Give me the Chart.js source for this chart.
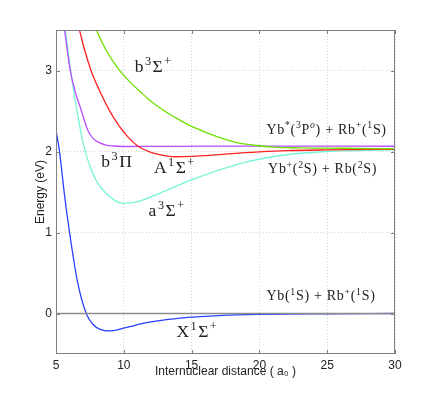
<!DOCTYPE html>
<html>
<head>
<meta charset="utf-8">
<script src="https://cdn.jsdelivr.net/npm/chart.js@4.4.0/dist/chart.umd.min.js"></script>
<style>
  html, body { margin: 0; padding: 0; background: #fff; }
  #wrap { position: relative; width: 436px; height: 399px; }
</style>
</head>
<body>
<div id="wrap"><canvas id="myChart" width="436" height="399"></canvas></div>
<script>
// potential curves, r in a0, energy in eV
const rX = [5.0, 5.26, 5.6, 6.0, 6.6, 7.23, 7.7, 8.3, 9.0, 9.8, 10.5, 11.5, 12.5, 14, 15, 17, 20, 25, 30];
const eX = [2.26, 2.0, 1.5, 1.0, 0.38, 0.0, -0.13, -0.2, -0.215, -0.19, -0.16, -0.12, -0.09, -0.06, -0.045, -0.025, -0.01, -0.003, 0.0];

const rA3 = [5.7, 6.1, 6.5, 7.0, 7.5, 8.0, 8.6, 9.3, 10.0, 11, 12, 13, 15, 17, 19, 22, 25, 30];
const eA3 = [3.5, 2.97, 2.55, 2.1, 1.82, 1.63, 1.5, 1.4, 1.36, 1.38, 1.44, 1.51, 1.65, 1.77, 1.87, 1.96, 2.0, 2.02];

const rA1 = [6.73, 7.2, 7.65, 8.3, 9.0, 9.6, 10.3, 11.0, 11.9, 12.8, 13.8, 15, 16.5, 18, 20, 22, 25, 30];
const eA1 = [3.5, 3.2, 2.97, 2.72, 2.49, 2.33, 2.18, 2.07, 1.995, 1.955, 1.935, 1.94, 1.955, 1.975, 1.995, 2.01, 2.02, 2.03];

const rPi = [5.63, 6.05, 6.45, 6.86, 7.35, 7.8, 8.2, 8.7, 9.2, 10, 12, 16, 20, 30];
const ePi = [3.5, 3.0, 2.72, 2.51, 2.26, 2.15, 2.11, 2.08, 2.068, 2.062, 2.063, 2.066, 2.067, 2.065];

const rB3 = [7.97, 8.7, 9.6, 10.5, 11.2, 12, 13, 14, 15, 16, 17.1, 18.3, 19.5, 21, 23, 26, 30];
const eB3 = [3.5, 3.25, 3.02, 2.85, 2.74, 2.62, 2.5, 2.4, 2.31, 2.24, 2.17, 2.11, 2.08, 2.055, 2.045, 2.04, 2.035];

const rZero = [5, 30];
const eZero = [0, 0];

const xTicks = [5, 10, 15, 20, 25, 30];
const yTicks = [0, 1, 2, 3];

function pts(xs, ys) {
  return xs.map((x, i) => ({x: x, y: ys[i]}));
}

// text labels: segments [text, mode] ; '' normal, '^' superscript, '^i' italic superscript
const labels = [
  {x: 10.8, y: 2.985, size: 17.5, gap: 1.5, seg: [['b',''], ['3','^'], ['Σ',''], ['+','^']]},
  {x: 8.34, y: 1.81, size: 17.5, gap: 1.5, seg: [['b',''], ['3','^'], ['Π','']]},
  {x: 12.22, y: 1.73, size: 17.5, gap: 1.5, seg: [['A',''], ['1','^'], ['Σ',''], ['+','^']]},
  {x: 11.83, y: 1.20, size: 17.5, gap: 1.5, seg: [['a',''], ['3','^'], ['Σ',''], ['+','^']]},
  {x: 13.88, y: -0.29, size: 17.5, gap: 1.5, seg: [['X',''], ['1','^'], ['Σ',''], ['+','^']]},
  {x: 20.52, y: 2.22, size: 14, gap: 0.7, seg: [['Yb',''], ['*','^'], ['(',''], ['3','^'], ['P',''], ['o','^i'], [') + Rb',''], ['+','^'], ['(',''], ['1','^'], ['S)','']]},
  {x: 20.64, y: 1.73, size: 14, gap: 0.7, seg: [['Yb',''], ['+','^'], ['(',''], ['2','^'], ['S) + Rb(',''], ['2','^'], ['S)','']]},
  {x: 20.52, y: 0.163, size: 14, gap: 0.7, seg: [['Yb(',''], ['1','^'], ['S) + Rb',''], ['+','^'], ['(',''], ['1','^'], ['S)','']]}
];

const framePlugin = {
  id: 'frame',
  afterDraw(chart) {
    const ctx = chart.ctx;
    const a = chart.chartArea;
    const xs = chart.scales.x, ys = chart.scales.y;
    ctx.save();
    ctx.strokeStyle = '#808080';
    ctx.lineWidth = 1;
    ctx.strokeRect(Math.round(a.left) + 0.5, Math.round(a.top) + 0.5,
      Math.round(a.right - a.left) - 1, Math.round(a.bottom - a.top) - 1);
    // inward ticks
    ctx.beginPath();
    xTicks.forEach(v => {
      const px = Math.round(xs.getPixelForValue(v)) + 0.5;
      ctx.moveTo(px, a.bottom); ctx.lineTo(px, a.bottom - 4);
      ctx.moveTo(px, a.top); ctx.lineTo(px, a.top + 4);
    });
    yTicks.forEach(v => {
      const py = Math.round(ys.getPixelForValue(v)) + 0.5;
      ctx.moveTo(a.left, py); ctx.lineTo(a.left + 4, py);
      ctx.moveTo(a.right, py); ctx.lineTo(a.right - 4, py);
    });
    ctx.stroke();

    // annotations
    ctx.fillStyle = '#222';
    ctx.textBaseline = 'alphabetic';
    ctx.textAlign = 'left';
    labels.forEach(l => {
      let px = xs.getPixelForValue(l.x);
      const py = ys.getPixelForValue(l.y);
      l.seg.forEach(s => {
        const sup = s[1].indexOf('^') === 0;
        const it = s[1] === '^i';
        const size = sup ? l.size * 0.7 : l.size;
        ctx.font = (it ? 'italic ' : '') + size + 'px "Liberation Serif", serif';
        for (const ch of s[0]) {
          ctx.fillText(ch, px, sup ? py - l.size * 0.4 : py);
          px += ctx.measureText(ch).width + l.gap;
        }
      });
    });
    ctx.restore();
  }
};

const line = (data, color) => ({
  data: data,
  borderColor: color,
  borderWidth: 1.3,
  pointRadius: 0,
  showLine: true,
  fill: false,
  cubicInterpolationMode: 'monotone'
});

new Chart(document.getElementById('myChart'), {
  type: 'scatter',
  data: {
    datasets: [
      line(pts(rZero, eZero), '#8c8c8c'),
      line(pts(rB3, eB3), '#6ee000'),
      line(pts(rA1, eA1), '#ff2020'),
      line(pts(rPi, ePi), '#b84cff'),
      line(pts(rA3, eA3), '#78f5d8'),
      line(pts(rX, eX), '#2a40ff')
    ]
  },
  options: {
    responsive: false,
    animation: false,
    events: [],
    plugins: { legend: { display: false }, tooltip: { enabled: false } },
    layout: { padding: { left: 0, top: 30, right: 41, bottom: 0 } },
    scales: {
      x: {
        type: 'linear',
        min: 5, max: 30,
        afterFit: s => { s.height = 45; },
        afterBuildTicks: s => { s.ticks = xTicks.map(v => ({value: v})); },
        grid: { color: '#d4d4d4', drawTicks: false },
        border: { display: false, dash: [1, 2] },
        ticks: { color: '#222', padding: 4, font: { family: '"Liberation Sans", Arial, sans-serif', size: 12 } },
        title: {
          display: true,
          text: 'Internuclear distance ( a₀ )',
          color: '#222',
          font: { family: '"Liberation Sans", Arial, sans-serif', size: 12 },
          padding: { top: 0, bottom: 20 }
        }
      },
      y: {
        type: 'linear',
        min: -0.5, max: 3.5,
        afterFit: s => { s.width = 56; },
        afterBuildTicks: s => { s.ticks = yTicks.map(v => ({value: v})); },
        grid: { color: '#d4d4d4', drawTicks: false },
        border: { display: false, dash: [1, 2] },
        ticks: { color: '#222', padding: 4, font: { family: '"Liberation Sans", Arial, sans-serif', size: 12 } },
        title: {
          display: true,
          text: 'Energy (eV)',
          color: '#222',
          font: { family: '"Liberation Sans", Arial, sans-serif', size: 12 },
          padding: { top: 33, bottom: 0 }
        }
      }
    }
  },
  plugins: [framePlugin]
});
</script>
</body>
</html>
